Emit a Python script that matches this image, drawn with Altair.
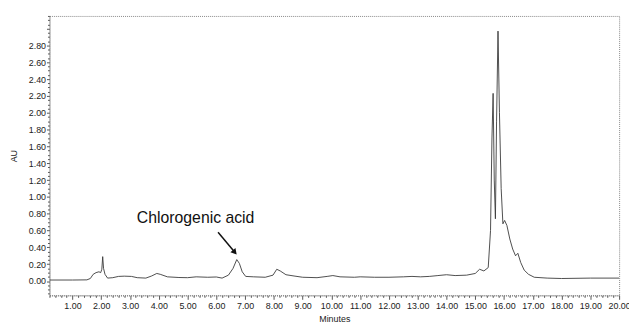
import altair as alt
import pandas as pd

# Chromatogram trace (minutes, AU)
times = [0.20, 1.00, 1.50, 1.62, 1.72, 1.82, 1.92, 1.98, 2.02, 2.05, 2.08, 2.13, 2.22,
         2.40, 2.60, 2.80, 3.05, 3.25, 3.55, 3.75, 3.93, 4.05, 4.30, 4.70, 5.00, 5.30,
         5.70, 6.00, 6.20, 6.42, 6.58, 6.71, 6.80, 6.90, 7.02, 7.30, 7.70, 7.97, 8.10,
         8.22, 8.42, 8.70, 9.00, 9.50, 9.85, 10.05, 10.30, 10.80, 11.00, 11.50, 12.00,
         12.50, 12.80, 13.10, 13.40, 13.70, 14.00, 14.30, 14.70, 15.00, 15.15, 15.30,
         15.45, 15.53, 15.58, 15.62, 15.66, 15.70, 15.74, 15.79, 15.84, 15.90, 15.96,
         16.02, 16.10, 16.20, 16.30, 16.40, 16.48, 16.58, 16.70, 16.85, 17.05, 17.50,
         18.00, 19.00, 20.00]
au = [0.012, 0.012, 0.014, 0.03, 0.08, 0.10, 0.11, 0.10, 0.14, 0.29, 0.15, 0.08, 0.035,
      0.04, 0.055, 0.058, 0.055, 0.04, 0.035, 0.06, 0.09, 0.08, 0.05, 0.042, 0.04, 0.05,
      0.045, 0.048, 0.035, 0.07, 0.15, 0.255, 0.21, 0.11, 0.055, 0.05, 0.045, 0.07, 0.14,
      0.12, 0.075, 0.06, 0.045, 0.04, 0.055, 0.065, 0.05, 0.045, 0.05, 0.045, 0.045,
      0.05, 0.055, 0.05, 0.055, 0.065, 0.075, 0.065, 0.07, 0.09, 0.14, 0.12,
      0.16, 0.60, 1.70, 2.23, 1.20, 0.74, 1.90, 2.97, 2.00, 1.10, 0.68,
      0.72, 0.66, 0.50, 0.38, 0.30, 0.33, 0.22, 0.13, 0.08, 0.045, 0.035,
      0.03, 0.035, 0.035]

# Axis ticks
x_ticks = [round(0.2 * i, 1) for i in range(1, 101)]          # minor + major (integers labelled)
y_ticks = [round(-0.15 + 0.05 * i, 2) for i in range(0, 67)]  # minor + major (0.00..2.80 labelled)

# Annotation
label_text = ["Chlorogenic acid"]
label_t = [5.28]
label_au = [0.75]
arrow_t = [6.06]
arrow_au = [0.58]
arrow_t2 = [6.62]
arrow_au2 = [0.35]

trace = pd.DataFrame({"t": times, "au": au})
label_df = pd.DataFrame({"t": label_t, "au": label_au, "text": label_text})
arrow_df = pd.DataFrame({"t": arrow_t, "au": arrow_au, "t2": arrow_t2, "au2": arrow_au2})

FONT = "Liberation Sans"
xs = alt.Scale(domain=[0.2, 20.0], nice=False, zero=False)
ys = alt.Scale(domain=[-0.17, 3.15], nice=False, zero=False)

x_axis = alt.Axis(
    values=x_ticks, tickCount=1000,
    labelExpr="abs(datum.value - round(datum.value)) < 1e-6 ? format(datum.value, '.2f') : ''",
    tickSize={"condition": {"test": "abs(datum.value - round(datum.value)) < 1e-6", "value": 4}, "value": 2},
    title="Minutes", titleFont=FONT, titleFontSize=9, titleFontWeight="normal", titleColor="#222",
    titlePadding=4,
    labelFont=FONT, labelFontSize=9, labelColor="#222", labelPadding=2,
    labelOverlap=False, labelFlush=False,
    domainColor="#777", domainDash=[1, 1], tickColor="#555", grid=False,
)
y_axis = alt.Axis(
    values=y_ticks, tickCount=1000,
    labelExpr="(abs(datum.value*5 - round(datum.value*5)) < 1e-6 && datum.value > -0.01 && datum.value < 2.81) ? format(datum.value, '.2f') : ''",
    tickSize={"condition": {"test": "abs(datum.value*5 - round(datum.value*5)) < 1e-6", "value": 3}, "value": 2},
    title="AU", titleFont=FONT, titleFontSize=9, titleFontWeight="normal", titleColor="#222",
    titlePadding=10,
    labelFont=FONT, labelFontSize=9, labelColor="#222", labelPadding=1,
    labelOverlap=False,
    domainColor="#777", domainDash=[1, 1], tickColor="#555", grid=False,
)

line = alt.Chart(trace).mark_line(color="#3a3a3a", strokeWidth=0.9, clip=True).encode(
    x=alt.X("t:Q", scale=xs, axis=x_axis),
    y=alt.Y("au:Q", scale=ys, axis=y_axis),
)

text = alt.Chart(label_df).mark_text(font=FONT, fontSize=16, color="#111").encode(
    x=alt.X("t:Q", scale=xs), y=alt.Y("au:Q", scale=ys), text="text:N"
)

arrow = alt.Chart(arrow_df).mark_rule(color="#111", strokeWidth=1.5).encode(
    x=alt.X("t:Q", scale=xs), y=alt.Y("au:Q", scale=ys), x2="t2:Q", y2="au2:Q"
)
head = alt.Chart(arrow_df).mark_point(shape="triangle", filled=True, color="#111",
                                      size=45, angle=140, opacity=1).encode(
    x=alt.X("t2:Q", scale=xs), y=alt.Y("au2:Q", scale=ys)
)

chart = alt.layer(line, arrow, head, text).properties(
    width=577, height=283,
    autosize=alt.AutoSizeParams(type="none"),
    padding={"left": 42, "top": 6, "right": 10, "bottom": 29},
    background="white",
).configure_view(stroke="#888", strokeDash=[1, 1], strokeWidth=1)

chart.save("out.html", embed_options={"renderer": "svg", "actions": False})
